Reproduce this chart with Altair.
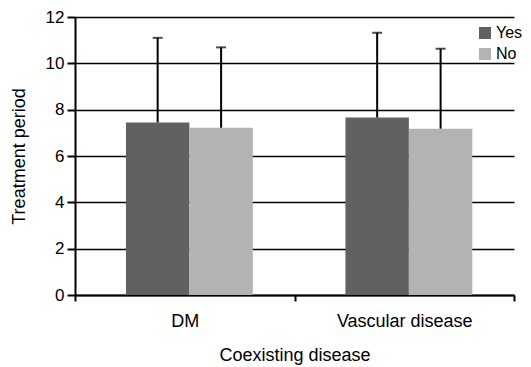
import altair as alt
import pandas as pd

groups = ["DM", "DM", "Vascular disease", "Vascular disease"]
status = ["Yes", "No", "Yes", "No"]
means = [7.45, 7.22, 7.66, 7.18]
sds = [3.65, 3.47, 3.66, 3.45]
y_ticks = [0, 2, 4, 6, 8, 10, 12]
status_order = ["Yes", "No"]
colors = ["#616161", "#b3b3b3"]

df = pd.DataFrame({"group": groups, "status": status, "mean": means, "sd": sds})
df["upper"] = df["mean"] + df["sd"]

FONT = "Liberation Sans"

x_enc = alt.X(
    "group:N",
    title="Coexisting disease",
    sort=["DM", "Vascular disease"],
    scale=alt.Scale(paddingInner=0, paddingOuter=0),
    axis=alt.Axis(
        labelAngle=0,
        labelFont=FONT,
        labelFontSize=18,
        labelColor="black",
        labelPadding=11,
        tickBand="extent",
        tickSize=6,
        tickWidth=2,
        tickColor="black",
        domainColor="black",
        domainWidth=2,
        titleFont=FONT,
        titleFontSize=18,
        titleFontWeight="normal",
        titleColor="black",
        titleY=60,
        titleBaseline="middle",
        grid=False,
    ),
)
xoff = alt.XOffset(
    "status:N",
    sort=status_order,
    scale=alt.Scale(domain=status_order, paddingInner=0, paddingOuter=0.73, align=0.55),
)
y_enc = alt.Y(
    "mean:Q",
    title="Treatment period",
    scale=alt.Scale(domain=[0, 12], nice=False),
    axis=alt.Axis(
        values=y_ticks,
        labelFont=FONT,
        labelFontSize=17,
        labelColor="black",
        labelPadding=3,
        tickSize=8,
        tickWidth=2,
        tickColor="black",
        domainColor="black",
        domainWidth=2,
        gridColor="black",
        gridWidth=1.6,
        gridOpacity=1,
        titleFont=FONT,
        titleFontSize=18,
        titleFontWeight="normal",
        titleColor="black",
        titleX=-56,
        titleBaseline="middle",
    ),
)

bars = alt.Chart(df).mark_bar().encode(
    x=x_enc,
    xOffset=xoff,
    y=y_enc,
    color=alt.Color(
        "status:N",
        scale=alt.Scale(domain=status_order, range=colors),
        legend=alt.Legend(
            title=None,
            orient="none",
            legendX=402,
            legendY=8,
            symbolType="square",
            symbolSize=144,
            symbolStrokeWidth=0,
            labelFont=FONT,
            labelFontSize=16,
            labelColor="black",
            labelOffset=3,
            rowPadding=5,
            padding=0,
        ),
    ),
)

err = alt.Chart(df).mark_rule(color="black", strokeWidth=2).encode(
    x=alt.X("group:N", sort=["DM", "Vascular disease"]),
    xOffset=xoff,
    y=alt.Y("mean:Q"),
    y2="upper:Q",
)

caps = alt.Chart(df).mark_tick(color="black", size=10, thickness=2, orient="horizontal").encode(
    x=alt.X("group:N", sort=["DM", "Vascular disease"]),
    xOffset=xoff,
    y=alt.Y("upper:Q"),
)

chart = (
    alt.layer(bars, err, caps)
    .properties(
        width=439,
        height=278,
        autosize=alt.AutoSizeParams(type="none"),
        padding={"left": 75, "top": 17, "right": 17, "bottom": 72},
        background="white",
    )
    .configure_view(stroke=None)
)

chart.save("out.html", embed_options={"renderer": "svg", "actions": False})
